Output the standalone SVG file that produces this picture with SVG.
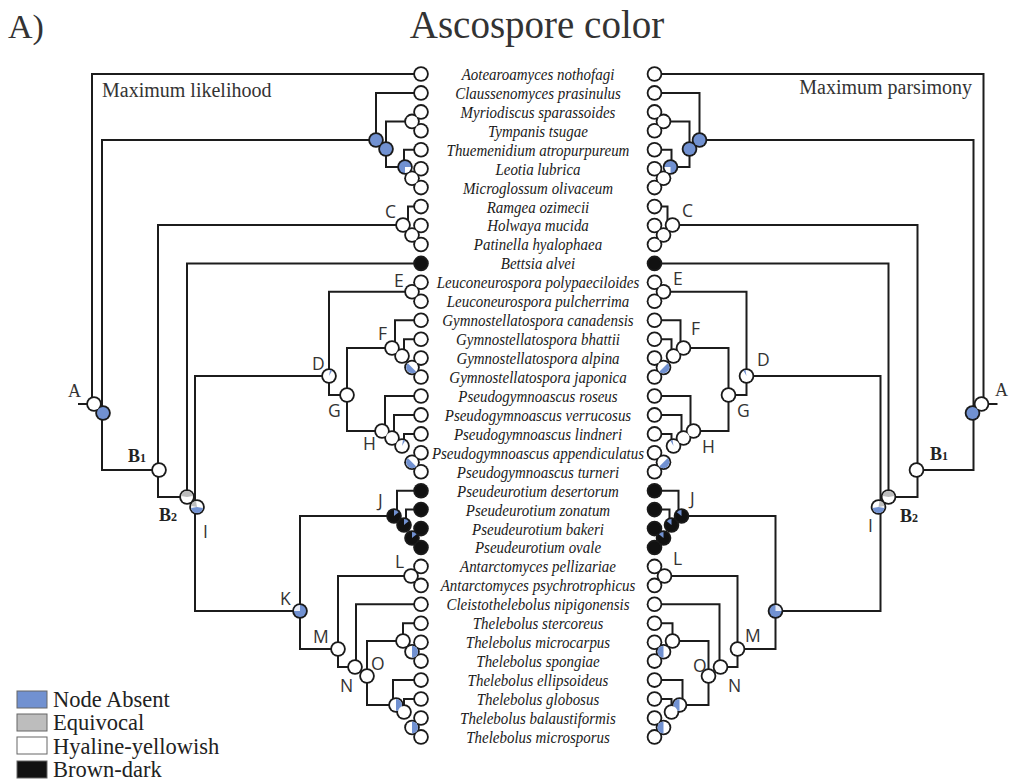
<svg xmlns="http://www.w3.org/2000/svg" width="1016" height="781" viewBox="0 0 1016 781">
<style>
.ln{fill:none;stroke:#1c1c1c;stroke-width:2}
.tx{font-family:"Liberation Serif",serif;font-style:italic;font-size:17px;fill:#1a1a1a;text-anchor:middle}
.lb{font-family:"Open Sans","Liberation Sans",sans-serif;font-size:17.5px;fill:#333}
.bl{font-family:"Liberation Serif",serif;font-weight:bold;font-size:18px;fill:#222}
.bs{font-family:"Liberation Serif",serif;font-weight:bold;font-size:12px;fill:#222}
.hd{font-family:"Liberation Serif",serif;fill:#333}
.lg{font-family:"Liberation Serif",serif;font-size:22.5px;fill:#222}
</style>
<defs>
<circle id="bk" r="7.8" fill="#1a1a1a"/>
<circle id="fw" r="6" fill="#fff"/>
<circle id="fb" r="6" fill="#7191d1"/>
<circle id="fk" r="6" fill="#111"/>
<g id="fbr"><circle r="6" fill="#fff"/><path d="M0,-6A6,6 0 0 1 0,6Z" fill="#7191d1"/></g>
<g id="fbl"><circle r="6" fill="#fff"/><path d="M4.24,4.24A6,6 0 0 1 -4.24,-4.24Z" fill="#7191d1"/></g>
<g id="fK"><circle r="6" fill="#7191d1"/><path d="M0,0L-6,0A6,6 0 0 1 0,-6Z" fill="#e8ecf6"/></g>
<g id="fD"><circle r="6" fill="#fff"/><path d="M0,0L1.04,-5.91A6,6 0 0 1 3,-5.2Z" fill="#7191d1"/></g>
<g id="fJ"><circle r="6" fill="#111"/><path d="M0,0L0,-6A6,6 0 0 1 4.6,-3.86Z" fill="#7191d1"/></g>
<g id="fB3"><circle r="6" fill="#7191d1"/><path d="M0,0L6,0A6,6 0 0 1 0,6Z" fill="#fff"/></g>
<g id="fB2"><circle r="6" fill="#fff"/><path d="M0,0L-5.91,-1.04A6,6 0 0 1 5.91,-1.04Z" fill="#bdbdbd"/></g>
<g id="fI"><circle r="6" fill="#fff"/><path d="M0,0L5.91,1.04A6,6 0 0 1 -5.91,1.04Z" fill="#7191d1"/><path d="M0,0L-5.91,-1.04A6,6 0 0 1 -1.04,-5.91Z" fill="#bdbdbd"/></g>
<g id="lines">
<path d="M421,74H92V404M78,404H88M376,140H102V470H159M403,225H158V497H187M421,263.4H187V497M329,376H195V611H300M412,291.8H329V395H347M392,348H347V431H382M376,140V92.9H421M412,121.4H386V167H405M404,167V149.8H421M408,225V206.6H421M395,348V320.2H421M404,356V339.2H421M385,431V396H421M394,438V414.9H421M404,446V433.9H421M394,516H300V649H338M397,516V490.7H421M406,524V509.6H421M411,576H338V667H355M421,604.3H356V667M403,641H367V705H396M403,641V623.3H421M393,705V680.1H421M404,712V699H421"/>
</g>
<g id="discs">
<use href="#bk" x="94" y="404"/><use href="#bk" x="103" y="413"/><use href="#bk" x="159" y="470"/><use href="#bk" x="187" y="497"/><use href="#bk" x="197" y="507"/><use href="#bk" x="329" y="376"/><use href="#bk" x="347" y="395"/>
<use href="#bk" x="376" y="140"/><use href="#bk" x="386" y="149"/><use href="#bk" x="405" y="167"/><use href="#bk" x="412" y="121.4"/><use href="#bk" x="412" y="178.2"/>
<use href="#bk" x="403" y="225"/><use href="#bk" x="412" y="235"/><use href="#bk" x="412" y="291.8"/>
<use href="#bk" x="392" y="348"/><use href="#bk" x="402" y="356"/><use href="#bk" x="412" y="367.5"/>
<use href="#bk" x="382" y="431"/><use href="#bk" x="392" y="438"/><use href="#bk" x="402" y="446"/><use href="#bk" x="412" y="462.3"/>
<use href="#bk" x="394" y="516"/><use href="#bk" x="404" y="525"/><use href="#bk" x="412" y="538"/>
<use href="#bk" x="300" y="611"/><use href="#bk" x="411" y="576"/><use href="#bk" x="338" y="649"/><use href="#bk" x="355" y="667"/><use href="#bk" x="367" y="676"/>
<use href="#bk" x="403" y="641"/><use href="#bk" x="412" y="651.7"/><use href="#bk" x="396" y="705"/><use href="#bk" x="404" y="712"/><use href="#bk" x="412" y="727.5"/>
<use href="#bk" x="421" y="74"/><use href="#bk" x="421" y="92.9"/><use href="#bk" x="421" y="111.9"/><use href="#bk" x="421" y="130.8"/><use href="#bk" x="421" y="149.8"/><use href="#bk" x="421" y="168.7"/><use href="#bk" x="421" y="187.6"/><use href="#bk" x="421" y="206.6"/><use href="#bk" x="421" y="225.5"/><use href="#bk" x="421" y="244.5"/><use href="#bk" x="421" y="263.4"/><use href="#bk" x="421" y="282.3"/><use href="#bk" x="421" y="301.3"/><use href="#bk" x="421" y="320.2"/><use href="#bk" x="421" y="339.2"/><use href="#bk" x="421" y="358.1"/><use href="#bk" x="421" y="377"/><use href="#bk" x="421" y="396"/><use href="#bk" x="421" y="414.9"/><use href="#bk" x="421" y="433.9"/><use href="#bk" x="421" y="452.8"/><use href="#bk" x="421" y="471.7"/><use href="#bk" x="421" y="490.7"/><use href="#bk" x="421" y="509.6"/><use href="#bk" x="421" y="528.6"/><use href="#bk" x="421" y="547.5"/><use href="#bk" x="421" y="566.4"/><use href="#bk" x="421" y="585.4"/><use href="#bk" x="421" y="604.3"/><use href="#bk" x="421" y="623.3"/><use href="#bk" x="421" y="642.2"/><use href="#bk" x="421" y="661.1"/><use href="#bk" x="421" y="680.1"/><use href="#bk" x="421" y="699"/><use href="#bk" x="421" y="718"/><use href="#bk" x="421" y="736.9"/>
</g>
<g id="nodefills">
<g id="n-A"><use href="#fw" x="94" y="404"/></g>
<g id="n-A2"><use href="#fb" x="103" y="413"/></g>
<g id="n-B1"><use href="#fw" x="159" y="470"/></g>
<g id="n-B2"><use href="#fB2" x="187" y="497"/></g>
<g id="n-I"><use href="#fI" x="197" y="507"/></g>
<g id="n-D"><use href="#fD" x="329" y="376"/></g>
<g id="n-G"><use href="#fw" x="347" y="395"/></g>
<g id="n-1a"><use href="#fb" x="376" y="140"/></g>
<g id="n-1b"><use href="#fb" x="386" y="149"/></g>
<g id="n-1c"><use href="#fB3" x="405" y="167"/></g>
<g id="n-1d"><use href="#fw" x="412" y="121.4"/></g>
<g id="n-1e"><use href="#fw" x="412" y="178.2"/></g>
<g id="n-C"><use href="#fw" x="403" y="225"/></g>
<g id="n-C2"><use href="#fw" x="412" y="235"/></g>
<g id="n-E"><use href="#fw" x="412" y="291.8"/></g>
<g id="n-F"><use href="#fw" x="392" y="348"/></g>
<g id="n-F2"><use href="#fw" x="402" y="356"/></g>
<g id="n-F3"><use href="#fbl" x="412" y="367.5"/></g>
<g id="n-H"><use href="#fw" x="382" y="431"/></g>
<g id="n-H2"><use href="#fw" x="392" y="438"/></g>
<g id="n-H3"><use href="#fD" x="402" y="446"/></g>
<g id="n-H4"><use href="#fbl" x="412" y="462.3"/></g>
<g id="n-J"><use href="#fJ" x="394" y="516"/></g>
<g id="n-J2"><use href="#fJ" x="404" y="525"/></g>
<g id="n-J3"><use href="#fJ" x="412" y="538"/></g>
<g id="n-K"><use href="#fK" x="300" y="611"/></g>
<g id="n-L"><use href="#fw" x="411" y="576"/></g>
<g id="n-M"><use href="#fw" x="338" y="649"/></g>
<g id="n-N"><use href="#fw" x="355" y="667"/></g>
<g id="n-O"><use href="#fw" x="367" y="676"/></g>
<g id="n-Q"><use href="#fw" x="403" y="641"/></g>
<g id="n-Q2"><use href="#fbr" x="412" y="651.7"/></g>
<g id="n-P"><use href="#fbr" x="396" y="705"/></g>
<g id="n-P2"><use href="#fw" x="404" y="712"/></g>
<g id="n-P3"><use href="#fbr" x="412" y="727.5"/></g>
</g>
<g id="tipfills">
<use href="#fw" x="421" y="74"/><use href="#fw" x="421" y="92.9"/><use href="#fw" x="421" y="111.9"/><use href="#fw" x="421" y="130.8"/><use href="#fw" x="421" y="149.8"/><use href="#fw" x="421" y="168.7"/><use href="#fw" x="421" y="187.6"/><use href="#fw" x="421" y="206.6"/><use href="#fw" x="421" y="225.5"/><use href="#fw" x="421" y="244.5"/><use href="#fk" x="421" y="263.4"/><use href="#fw" x="421" y="282.3"/><use href="#fw" x="421" y="301.3"/><use href="#fw" x="421" y="320.2"/><use href="#fw" x="421" y="339.2"/><use href="#fw" x="421" y="358.1"/><use href="#fw" x="421" y="377"/><use href="#fw" x="421" y="396"/><use href="#fw" x="421" y="414.9"/><use href="#fw" x="421" y="433.9"/><use href="#fw" x="421" y="452.8"/><use href="#fw" x="421" y="471.7"/><use href="#fk" x="421" y="490.7"/><use href="#fk" x="421" y="509.6"/><use href="#fk" x="421" y="528.6"/><use href="#fk" x="421" y="547.5"/><use href="#fw" x="421" y="566.4"/><use href="#fw" x="421" y="585.4"/><use href="#fw" x="421" y="604.3"/><use href="#fw" x="421" y="623.3"/><use href="#fw" x="421" y="642.2"/><use href="#fw" x="421" y="661.1"/><use href="#fw" x="421" y="680.1"/><use href="#fw" x="421" y="699"/><use href="#fw" x="421" y="718"/><use href="#fw" x="421" y="736.9"/>
</g>
</defs>

<text class="hd" x="8" y="38" font-size="34">A)</text>
<text class="hd" x="537" y="38" font-size="39" text-anchor="middle">Ascospore color</text>
<text class="hd" x="102" y="97" font-size="20">Maximum likelihood</text>
<text class="hd" x="972" y="94" font-size="20" text-anchor="end">Maximum parsimony</text>

<g id="connectors">
<g id="connectors-ml" class="ln"><use href="#lines"/></g>
<g id="connectors-mp" class="ln" transform="matrix(-1 0 0 1 1075.5 0)"><use href="#lines"/></g>
</g>

<g id="tree-ml">
<use href="#discs"/>
<use href="#nodefills"/>
<use href="#tipfills"/>
</g>
<g id="tree-mp" transform="matrix(-1 0 0 1 1075.5 0)">
<use href="#discs"/>
<use href="#nodefills"/>
<use href="#tipfills"/>
</g>

<g id="taxa" transform="translate(538 0) scale(0.88 1) translate(-538 0)">
<text class="tx" x="538" y="80">Aotearoamyces nothofagi</text>
<text class="tx" x="538" y="98.9">Claussenomyces prasinulus</text>
<text class="tx" x="538" y="117.9">Myriodiscus sparassoides</text>
<text class="tx" x="538" y="136.8">Tympanis tsugae</text>
<text class="tx" x="538" y="155.8">Thuemenidium atropurpureum</text>
<text class="tx" x="538" y="174.7">Leotia lubrica</text>
<text class="tx" x="538" y="193.6">Microglossum olivaceum</text>
<text class="tx" x="538" y="212.6">Ramgea ozimecii</text>
<text class="tx" x="538" y="231.5">Holwaya mucida</text>
<text class="tx" x="538" y="250.5">Patinella hyalophaea</text>
<text class="tx" x="538" y="269.4">Bettsia alvei</text>
<text class="tx" x="538" y="288.3">Leuconeurospora polypaeciloides</text>
<text class="tx" x="538" y="307.3">Leuconeurospora pulcherrima</text>
<text class="tx" x="538" y="326.2">Gymnostellatospora canadensis</text>
<text class="tx" x="538" y="345.2">Gymnostellatospora bhattii</text>
<text class="tx" x="538" y="364.1">Gymnostellatospora alpina</text>
<text class="tx" x="538" y="383">Gymnostellatospora japonica</text>
<text class="tx" x="538" y="402">Pseudogymnoascus roseus</text>
<text class="tx" x="538" y="420.9">Pseudogymnoascus verrucosus</text>
<text class="tx" x="538" y="439.9">Pseudogymnoascus lindneri</text>
<text class="tx" x="538" y="458.8">Pseudogymnoascus appendiculatus</text>
<text class="tx" x="538" y="477.7">Pseudogymnoascus turneri</text>
<text class="tx" x="538" y="496.7">Pseudeurotium desertorum</text>
<text class="tx" x="538" y="515.6">Pseudeurotium zonatum</text>
<text class="tx" x="538" y="534.6">Pseudeurotium bakeri</text>
<text class="tx" x="538" y="553.5">Pseudeurotium ovale</text>
<text class="tx" x="538" y="572.4">Antarctomyces pellizariae</text>
<text class="tx" x="538" y="591.4">Antarctomyces psychrotrophicus</text>
<text class="tx" x="538" y="610.3">Cleistothelebolus nipigonensis</text>
<text class="tx" x="538" y="629.3">Thelebolus stercoreus</text>
<text class="tx" x="538" y="648.2">Thelebolus microcarpus</text>
<text class="tx" x="538" y="667.1">Thelebolus spongiae</text>
<text class="tx" x="538" y="686.1">Thelebolus ellipsoideus</text>
<text class="tx" x="538" y="705">Thelebolus globosus</text>
<text class="tx" x="538" y="724">Thelebolus balaustiformis</text>
<text class="tx" x="538" y="742.9">Thelebolus microsporus</text>
</g>

<g id="node-labels">
<text class="hd" x="68" y="397" font-size="18">A</text>
<text x="128" y="462"><tspan class="bl">B</tspan><tspan class="bs">1</tspan></text>
<text x="159" y="521"><tspan class="bl">B</tspan><tspan class="bs">2</tspan></text>
<text class="lb" x="203" y="538">I</text>
<text class="lb" x="385" y="218">C</text>
<text class="lb" x="312" y="370">D</text>
<text class="lb" x="394" y="287">E</text>
<text class="lb" x="378" y="340">F</text>
<text class="lb" x="328" y="417">G</text>
<text class="lb" x="363" y="450">H</text>
<text class="lb" x="378" y="507">J</text>
<text class="lb" x="280" y="605">K</text>
<text class="lb" x="395" y="568">L</text>
<text class="lb" x="313" y="643">M</text>
<text class="lb" x="340" y="692">N</text>
<text class="lb" x="371" y="670">O</text>
<text class="hd" x="995" y="396" font-size="18">A</text>
<text x="930" y="460"><tspan class="bl">B</tspan><tspan class="bs">1</tspan></text>
<text x="900" y="522"><tspan class="bl">B</tspan><tspan class="bs">2</tspan></text>
<text class="lb" x="868" y="532">I</text>
<text class="lb" x="682" y="217">C</text>
<text class="lb" x="757" y="366">D</text>
<text class="lb" x="673" y="285">E</text>
<text class="lb" x="691" y="335">F</text>
<text class="lb" x="737" y="417">G</text>
<text class="lb" x="702" y="453">H</text>
<text class="lb" x="690" y="505">J</text>
<text class="lb" x="673" y="565">L</text>
<text class="lb" x="745" y="642">M</text>
<text class="lb" x="693" y="672">O</text>
<text class="lb" x="728" y="692">N</text>
</g>

<g id="legend">
<rect x="17" y="691" width="30" height="17" fill="#7191d1" stroke="#666" stroke-width="1"/>
<text class="lg" x="53" y="707">Node Absent</text>
<rect x="17" y="714" width="30" height="17" fill="#bdbdbd" stroke="#666" stroke-width="1"/>
<text class="lg" x="53" y="730">Equivocal</text>
<rect x="17" y="737" width="30" height="17" fill="#fff" stroke="#666" stroke-width="1"/>
<text class="lg" x="53" y="754">Hyaline-yellowish</text>
<rect x="17" y="761" width="30" height="17" fill="#111" stroke="#666" stroke-width="1"/>
<text class="lg" x="53" y="777">Brown-dark</text>
</g>
</svg>
